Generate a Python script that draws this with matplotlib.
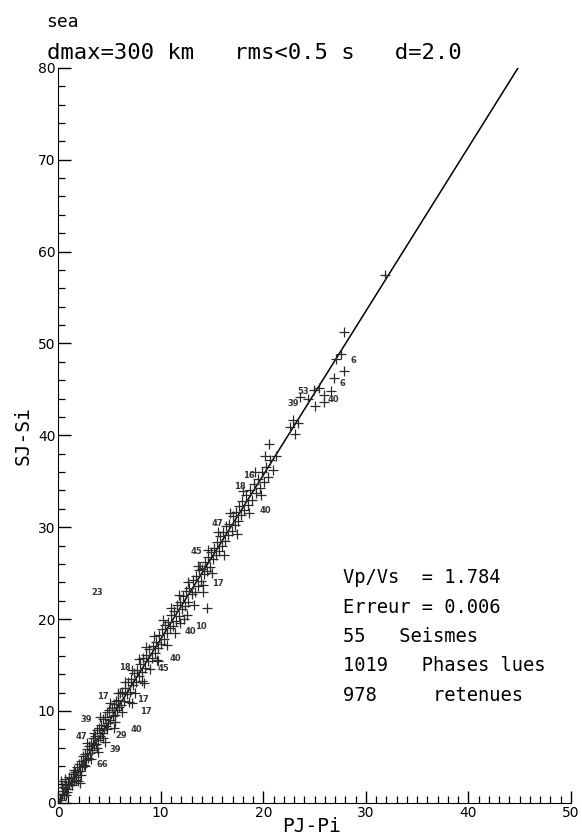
import numpy as np
import matplotlib.pyplot as plt
from matplotlib.ticker import MultipleLocator

# rapport Vp/Vs (diagramme de Wadati modifie)
ratio = 1.784
erreur = 0.006
n_seismes = 55
n_lues = 1019
n_retenues = 978

# points (PJ-Pi, SJ-Si)
px = [0.2, 0.3, 0.4, 0.5, 0.6, 0.7, 0.8, 0.9, 1.0, 1.0, 1.1, 1.2, 1.3, 1.4, 1.5,
      1.6, 1.7, 1.8, 1.9, 2.0, 2.1, 2.2, 2.3, 2.4, 2.5, 2.6, 2.7, 2.8, 2.9, 3.0,
      0.3, 0.7, 1.2, 1.7, 2.1,
      3.1, 3.2, 3.3, 3.4, 3.5, 3.6, 3.7, 3.8, 3.9, 4.0, 4.1, 4.2, 4.3, 4.4, 4.5,
      4.6, 4.7, 4.8, 4.9, 5.0, 5.1, 5.2, 5.3, 5.4, 5.5, 5.6, 5.7, 5.8, 5.9, 6.0,
      6.1, 6.2, 6.4, 6.5, 6.7, 6.8, 7.0, 7.1, 7.3, 7.4, 7.6, 7.7, 7.9, 8.0, 8.2,
      8.3, 8.5, 8.6, 8.8, 8.9, 9.1, 9.2, 9.4, 9.5, 9.7, 9.8, 10.0,
      10.1, 10.3, 10.4, 10.6, 10.7, 10.9, 11.0, 11.2, 11.3, 11.5, 11.6, 11.8,
      11.9, 12.1, 12.2, 12.4, 12.5, 12.7, 12.8, 13.0, 13.1, 13.3, 13.4, 13.6,
      13.7, 13.9, 14.0, 14.2, 14.3, 14.5, 14.6, 14.8, 14.9,
      15.1, 15.2, 15.4, 15.5, 15.7, 15.8, 16.0, 16.1, 16.3, 16.4, 16.6, 16.7,
      16.9, 17.0, 17.2, 17.3, 17.5, 17.6, 17.8, 17.9, 18.1, 18.3, 18.5, 18.7,
      18.9, 19.1, 19.3, 19.5, 19.7, 19.9, 20.1, 20.3, 20.5, 20.7, 20.9,
      14.5, 14.1, 12.6, 11.9, 9.6, 8.4, 7.2, 5.4, 4.6, 3.9,
      0.4, 0.8, 1.1, 1.5, 1.9, 2.2, 2.6, 2.8, 3.2, 3.5, 3.8, 4.1, 4.4, 4.8,
      5.1, 5.5, 5.8, 6.2, 6.5, 6.9, 7.2, 7.5, 7.9, 8.2, 8.6, 9.0, 9.3, 9.7,
      10.2, 10.6, 11.0, 11.4, 11.8, 12.3, 12.7, 13.2, 13.6, 14.1, 14.6, 15.0,
      15.6, 16.2, 16.8, 17.4, 18.0, 18.6, 19.2, 19.8,
      20.6, 20.2, 21.2, 22.6, 22.9, 23.4, 23.1, 23.6, 24.4, 24.9, 25.0, 25.4,
      25.9, 25.9, 26.6, 26.9, 27.1, 27.6, 27.9, 27.9, 31.9]
py = [0.5, 0.3, 1.0, 1.3, 0.8, 1.6, 1.9, 1.2, 2.3, 1.5, 2.0, 2.7, 1.9, 3.1, 2.4,
      3.3, 2.8, 3.9, 3.0, 4.2, 3.5, 4.5, 3.9, 5.1, 4.1, 5.3, 4.7, 5.9, 4.9, 6.2,
      2.4, 2.6, 2.3, 2.5, 2.2,
      5.4, 6.5, 5.8, 7.1, 6.3, 7.3, 6.4, 7.9, 6.8, 8.1, 7.3, 8.5, 7.6, 9.1, 8.0,
      9.3, 8.4, 9.9, 8.7, 10.1, 9.0, 10.3, 9.4, 10.8, 9.6, 11.1, 10.1, 11.2, 10.4,
      11.9, 10.7, 12.1, 11.1, 12.5, 11.8, 13.2, 12.1, 13.5, 12.8, 14.1, 13.1,
      14.5, 13.8, 15.1, 14.2, 15.8, 14.7, 16.1, 15.4, 16.7, 15.8, 17.1, 16.3,
      17.5, 16.9, 18.3, 17.3,
      18.9, 17.8, 19.4, 18.5, 19.7, 19.0, 20.4, 19.3, 20.9, 19.8, 21.5, 20.3,
      21.9, 21.1, 22.5, 21.4, 23.1, 21.9, 23.4, 22.7, 24.2, 23.0, 24.7, 23.6,
      25.3, 24.1, 25.5, 24.9, 26.2, 25.2, 26.8, 25.7, 27.3,
      26.5, 27.7, 27.0, 28.4, 27.4, 29.0, 27.9, 29.5, 28.5, 30.1, 29.2, 30.4,
      29.6, 31.2, 30.2, 31.7, 30.7, 32.3, 31.3, 32.9, 31.9, 33.5, 32.4, 34.1,
      33.0, 34.7, 33.7, 35.3, 34.3, 36.0, 34.9, 36.6, 35.5, 37.3, 36.2,
      21.2, 23.7, 20.4, 19.6, 15.5, 13.0, 10.9, 8.1, 6.6, 5.5,
      1.7, 0.9, 2.8, 3.6, 2.4, 3.0, 4.0, 6.5, 4.8, 7.6, 6.0, 9.3, 7.0, 8.0,
      10.9, 8.8, 12.0, 9.9, 13.2, 11.0, 14.5, 12.0, 15.6, 13.3, 17.0, 14.6,
      18.2, 15.4, 19.9, 17.2, 21.2, 18.5, 22.6, 20.0, 24.0, 21.5, 25.8, 22.9,
      27.5, 25.0, 29.5, 27.0, 31.6, 29.3, 33.9, 31.5, 36.0, 33.5,
      39.1, 37.7, 37.7, 40.9, 41.7, 41.3, 40.1, 44.2, 44.0, 44.9, 43.2, 45.2,
      44.4, 43.6, 44.8, 46.2, 48.3, 48.9, 51.3, 47.0, 57.5]

# numeros des seismes ecartes
lab_x = [3.8, 28.8, 27.7, 23.9, 22.9, 26.8, 18.6, 17.7, 20.2, 15.5, 13.5, 14.0,
         15.6, 12.9, 13.9, 11.4, 10.3, 6.5, 4.4, 8.3, 8.5, 2.7, 7.6, 6.1, 2.3,
         5.6, 4.3]
lab_y = [22.9, 48.1, 45.6, 44.8, 43.5, 43.9, 35.6, 34.4, 31.8, 30.4, 27.4, 25.7,
         23.9, 18.7, 19.2, 15.7, 14.6, 14.7, 11.6, 11.2, 9.9, 9.1, 8.0, 7.3, 7.2,
         5.8, 4.2]
lab_t = ["23", "6", "6", "53", "39", "40", "16", "18", "40", "47", "45", "17",
         "17", "40", "10", "40", "45", "18", "17", "17", "17", "39", "40", "29",
         "47", "39", "66"]

mono = "DejaVu Sans Mono"

fig = plt.figure(figsize=(5.82, 8.38), dpi=100)
ax = fig.add_axes([0.1, 0.042, 0.881, 0.877])

ax.scatter(px, py, marker="+", s=55, linewidths=0.9, color="#2a2a2a", zorder=3)
xl = np.array([0, 80 / ratio])
ax.plot(xl, ratio * xl, color="black", lw=1.1, zorder=2)

for x, y, t in zip(lab_x, lab_y, lab_t):
    ax.text(x, y, t, fontsize=6, fontweight="bold", color="#333333",
            ha="center", va="center")

ax.set_xlim(0, 50)
ax.set_ylim(0, 80)
ax.spines["top"].set_visible(False)
ax.spines["right"].set_visible(False)
ax.xaxis.set_major_locator(MultipleLocator(10))
ax.xaxis.set_minor_locator(MultipleLocator(1))
ax.yaxis.set_major_locator(MultipleLocator(10))
ax.yaxis.set_minor_locator(MultipleLocator(2))
ax.tick_params(which="major", direction="in", length=9, width=1, labelsize=10,
               pad=2)
ax.tick_params(which="minor", direction="in", length=5, width=0.9)

fig.text(0.536, 0.002, "PJ-Pi", fontsize=14, family=mono,
         ha="center", va="bottom")
ax.set_ylabel("SJ-Si", fontsize=14, family=mono, labelpad=4)

fig.text(0.08, 0.974, "sea", fontsize=13, family=mono, ha="left", va="center")
fig.text(0.08, 0.937, "dmax=300 km   rms<0.5 s   d=2.0", fontsize=16,
         family=mono, ha="left", va="center")

infos = [f"Vp/Vs  = {ratio:.3f}",
         f"Erreur = {erreur:.3f}",
         f"{n_seismes}   Seismes",
         f"{n_lues}   Phases lues",
         f"{n_retenues}     retenues"]
for i, s in enumerate(infos):
    ax.text(27.8, 24.5 - i * 3.2, s, fontsize=13.5, family=mono,
            ha="left", va="center")

fig.savefig("out.png", dpi=100)
